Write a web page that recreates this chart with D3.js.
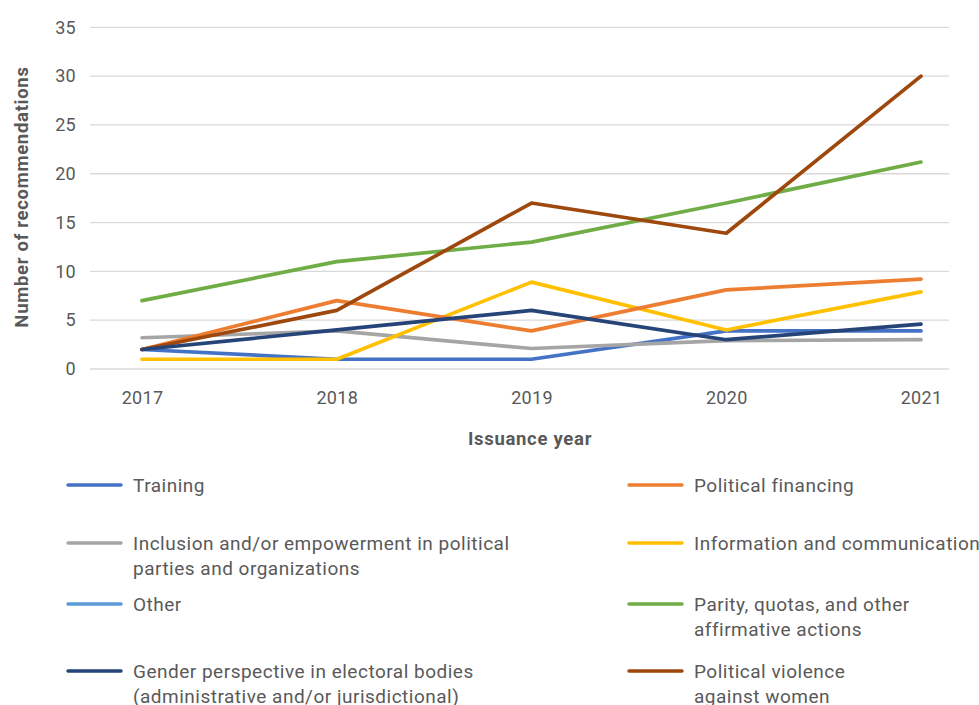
<!DOCTYPE html>
<html>
<head>
<meta charset="utf-8">
<script src="https://cdn.jsdelivr.net/npm/d3@7"></script>
<style>
  html, body { margin: 0; padding: 0; background: #fff; }
  svg text { font-family: Roboto, "Noto Sans", sans-serif; fill: #595959; }
</style>
</head>
<body>
<svg id="chart" width="979" height="705"></svg>
<script>
// values
var years = ["2017", "2018", "2019", "2020", "2021"];
var yTicks = [0, 5, 10, 15, 20, 25, 30, 35];

var training     = [2, 1, 1, 3.9, 3.9];
var financing    = [2, 7, 3.9, 8.1, 9.2];
var inclusion    = [3.2, 3.9, 2.1, 2.9, 3];
var information  = [1, 1, 8.9, 4, 7.9];
var other        = [null, null, null, null, null];
var parity       = [7, 11, 13, 17, 21.2];
var gender       = [2, 4, 6, 3, 4.6];
var violence     = [2, 6, 17, 13.9, 30];

var seriesNames = ["Training", "Political financing",
                   "Inclusion and/or empowerment in political parties and organizations",
                   "Information and communication", "Other",
                   "Parity, quotas, and other affirmative actions",
                   "Gender perspective in electoral bodies (administrative and/or jurisdictional)",
                   "Political violence against women"];
var seriesValues = [training, financing, inclusion, information, other, parity, gender, violence];
var seriesColors = ["#4472C4", "#ED7D31", "#A5A5A5", "#FFC000", "#5B9BD5", "#70AD47", "#264478", "#9E480E"];

// how legend labels wrap, same order as seriesNames
var legendLines = [["Training"], ["Political financing"],
                   ["Inclusion and/or empowerment in political", "parties and organizations"],
                   ["Information and communication"], ["Other"],
                   ["Parity, quotas, and other", "affirmative actions"],
                   ["Gender perspective in electoral bodies", "(administrative and/or jurisdictional)"],
                   ["Political violence", "against women"]];

var svg = d3.select("#chart");

var x = d3.scalePoint().domain(years).range([142, 921]);
var y = d3.scaleLinear().domain([0, 35]).range([369, 27.3]);

// gridlines
svg.append("g")
   .selectAll("line")
   .data(yTicks)
   .enter().append("line")
     .attr("x1", 90).attr("x2", 949)
     .attr("y1", function(d) { return y(d); })
     .attr("y2", function(d) { return y(d); })
     .attr("stroke", "#d9d9d9")
     .attr("stroke-width", 1.3);

// y axis labels
var yAxis = svg.append("g")
   .attr("transform", "translate(76,0)")
   .call(d3.axisLeft(y).tickValues(yTicks).tickSize(0).tickPadding(0));
yAxis.select(".domain").remove();
yAxis.selectAll("text")
     .attr("font-size", "18px")
     .attr("font-family", "Roboto, sans-serif")
     .attr("letter-spacing", "0.3px")
     .attr("fill", "#595959");

// x axis labels
var xAxis = svg.append("g")
   .attr("transform", "translate(0,391)")
   .call(d3.axisBottom(x).tickSize(0).tickPadding(0));
xAxis.select(".domain").remove();
xAxis.selectAll("text")
     .attr("font-size", "18px")
     .attr("font-family", "Roboto, sans-serif")
     .attr("letter-spacing", "0.3px")
     .attr("fill", "#595959");

// axis titles
svg.append("text")
   .attr("transform", "translate(28,197) rotate(-90)")
   .attr("text-anchor", "middle")
   .attr("font-size", "18.5px")
   .attr("letter-spacing", "0.7px")
   .attr("font-weight", "bold")
   .text("Number of recommendations");

svg.append("text")
   .attr("x", 530).attr("y", 445)
   .attr("text-anchor", "middle")
   .attr("font-size", "18.5px")
   .attr("letter-spacing", "0.7px")
   .attr("font-weight", "bold")
   .text("Issuance year");

// lines
var line = d3.line()
   .defined(function(d) { return d != null; })
   .x(function(d, i) { return x(years[i]); })
   .y(function(d) { return y(d); });

var drawOrder = [0, 2, 4, 3, 1, 5, 7, 6];
svg.append("g")
   .selectAll("path")
   .data(drawOrder)
   .enter().append("path")
     .attr("d", function(k) { return line(seriesValues[k]); })
     .attr("fill", "none")
     .attr("stroke", function(k) { return seriesColors[k]; })
     .attr("stroke-width", 3.7)
     .attr("stroke-linecap", "round")
     .attr("stroke-linejoin", "round");

// legend, two columns, filled row by row
var legendRowY = [485, 543, 604, 671];
var legendColX = [68, 629];
var legend = svg.append("g")
   .selectAll("g")
   .data(seriesNames)
   .enter().append("g")
     .attr("transform", function(d, i) {
       return "translate(" + legendColX[i % 2] + "," + legendRowY[Math.floor(i / 2)] + ")";
     });

legend.append("line")
      .attr("x1", 0).attr("x2", 53)
      .attr("y1", 0).attr("y2", 0)
      .attr("stroke", function(d, i) { return seriesColors[i]; })
      .attr("stroke-width", 3.5)
      .attr("stroke-linecap", "round");

legend.append("text")
      .attr("x", 65)
      .attr("font-size", "19px")
      .attr("letter-spacing", "0.5px")
      .each(function(d, i) {
        var t = d3.select(this);
        legendLines[i].forEach(function(s, j) {
          t.append("tspan")
           .attr("x", 65)
           .attr("y", j * 25)
           .attr("dy", "0.35em")
           .text(s);
        });
      });
</script>
</body>
</html>
